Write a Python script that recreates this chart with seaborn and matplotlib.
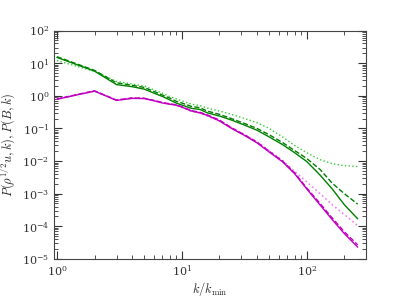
import numpy as np
import pandas as pd
import matplotlib
matplotlib.use("Agg")
import matplotlib.pyplot as plt
import seaborn as sns

# k / k_min sample points
k = [1, 2, 3, 4, 5, 6, 7, 8, 9, 10, 12, 14, 16, 20, 25, 32, 40, 50, 64, 80,
     100, 128, 160, 200, 256]

# kinetic spectra P(rho^1/2 u, k) -- green
kin_solid = [15.0, 5.7, 2.2, 1.9, 1.6, 1.2, 0.95, 0.75, 0.6, 0.52, 0.41, 0.38,
             0.3, 0.24, 0.18, 0.125, 0.088, 0.055, 0.032, 0.018, 0.0097,
             0.0037, 0.0014, 4.6e-4, 1.7e-4]
kin_dashed = [15.8, 6.0, 2.5, 2.1, 1.8, 1.35, 1.05, 0.85, 0.68, 0.6, 0.47, 0.43,
              0.34, 0.27, 0.2, 0.14, 0.1, 0.064, 0.037, 0.021, 0.012, 0.0055,
              0.0021, 1.0e-3, 4.8e-4]
kin_dotted = [12.0, 5.6, 2.75, 2.3, 2.0, 1.5, 1.2, 0.95, 0.8, 0.7, 0.55, 0.5,
              0.42, 0.34, 0.27, 0.2, 0.15, 0.1, 0.055, 0.03, 0.018, 0.011,
              0.0083, 0.0072, 0.0068]

# magnetic spectra P(B, k) -- magenta
mag_solid = [0.78, 1.39, 0.72, 0.83, 0.82, 0.7, 0.6, 0.55, 0.52, 0.45, 0.34,
             0.3, 0.25, 0.17, 0.1, 0.06, 0.036, 0.019, 0.0095, 0.0041, 0.0014,
             4.5e-4, 1.6e-4, 6.0e-5, 2.3e-5]
mag_dashed = [0.8, 1.42, 0.74, 0.86, 0.84, 0.72, 0.62, 0.57, 0.53, 0.46, 0.35,
              0.31, 0.26, 0.18, 0.105, 0.063, 0.038, 0.02, 0.01, 0.0044,
              0.0015, 5.0e-4, 1.8e-4, 6.8e-5, 2.7e-5]
mag_dotted = [0.82, 1.38, 0.75, 0.86, 0.84, 0.72, 0.62, 0.56, 0.5, 0.44, 0.33,
              0.29, 0.24, 0.17, 0.105, 0.063, 0.039, 0.021, 0.0105, 0.0048,
              0.0023, 1.0e-3, 4.6e-4, 2.3e-4, 1.05e-4]

sns.set_style("ticks")
plt.rcParams['font.family'] = ['DejaVu Serif']
plt.rcParams['mathtext.fontset'] = 'cm'
plt.rcParams['xtick.direction'] = 'in'
plt.rcParams['ytick.direction'] = 'in'

fig, ax = plt.subplots(figsize=(4.07, 3.05), dpi=100)
fig.subplots_adjust(left=0.133, right=0.9, bottom=0.151, top=0.9)

lines = [
    (kin_dotted, 'limegreen', ':', 1.0),
    (mag_dotted, 'violet', ':', 1.2),
    (kin_solid, 'green', '-', 1.0),
    (kin_dashed, 'green', '--', 1.0),
    (mag_solid, 'm', '-', 1.0),
    (mag_dashed, 'm', '--', 1.0),
]
for vals, c, ls, lw in lines:
    sns.lineplot(x=k, y=vals, ax=ax, color=c, linestyle=ls, linewidth=lw)

ax.set_xscale('log')
ax.set_yscale('log')
ax.set_xlim(0.95, 300)
ax.set_ylim(1e-5, 1e2)

ax.tick_params(which='both', top=True, right=True, labelsize=8, colors='#333333')
ax.tick_params(which='major', length=6)
ax.tick_params(which='minor', length=3)
for s in ax.spines.values():
    s.set_color('#444444')

ax.set_xlabel(r'$k/k_{\rm min}$', fontsize=9, labelpad=1)
ax.set_ylabel(r'$P(\rho^{1/2}u,k),P(B,k)$', fontsize=9, labelpad=3)

plt.savefig("out.png")
